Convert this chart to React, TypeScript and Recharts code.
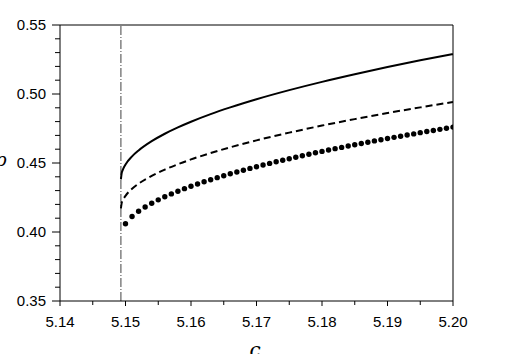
import React from "react";
import {
  ComposedChart,
  Line,
  Scatter,
  XAxis,
  YAxis,
  ReferenceLine,
} from "recharts";

// critical point (dash-dot marker)
const cCritical = 5.1493;

// solid + dashed curves
const lineC = [
  5.1493, 5.1494, 5.1496, 5.15, 5.151, 5.152, 5.154, 5.156, 5.158, 5.16,
  5.163, 5.166, 5.17, 5.175, 5.18, 5.185, 5.19, 5.195, 5.2,
];
const solidVals = [
  0.4382, 0.4422, 0.4452, 0.4489, 0.4548, 0.4591, 0.4658, 0.4712, 0.4758,
  0.4799, 0.4854, 0.4903, 0.4962, 0.5028, 0.5088, 0.5143, 0.5195, 0.5244,
  0.5289,
];
const dashedVals = [
  0.4172, 0.4206, 0.4231, 0.4262, 0.4313, 0.435, 0.4406, 0.4452, 0.4491,
  0.4526, 0.4572, 0.4614, 0.4664, 0.472, 0.4771, 0.4818, 0.4862, 0.4903,
  0.4942,
];

// dotted series, one marker every 0.001 from 5.150 to 5.200
const dotC = [
  5.15, 5.151, 5.152, 5.153, 5.154, 5.155, 5.156, 5.157, 5.158, 5.159, 5.16,
  5.161, 5.162, 5.163, 5.164, 5.165, 5.166, 5.167, 5.168, 5.169, 5.17, 5.171,
  5.172, 5.173, 5.174, 5.175, 5.176, 5.177, 5.178, 5.179, 5.18, 5.181, 5.182,
  5.183, 5.184, 5.185, 5.186, 5.187, 5.188, 5.189, 5.19, 5.191, 5.192, 5.193,
  5.194, 5.195, 5.196, 5.197, 5.198, 5.199, 5.2,
];
const dotVals = [
  0.406, 0.4112, 0.415, 0.4181, 0.4208, 0.4233, 0.4255, 0.4276, 0.4295,
  0.4314, 0.4331, 0.4348, 0.4364, 0.4379, 0.4394, 0.4408, 0.4422, 0.4435,
  0.4448, 0.4461, 0.4473, 0.4486, 0.4497, 0.4509, 0.452, 0.4531, 0.4542,
  0.4553, 0.4563, 0.4574, 0.4584, 0.4594, 0.4604, 0.4613, 0.4623, 0.4632,
  0.4641, 0.465, 0.466, 0.4668, 0.4677, 0.4686, 0.4694, 0.4703, 0.4711, 0.472,
  0.4728, 0.4736, 0.4744, 0.4752, 0.476,
];

const xMajor = [5.14, 5.15, 5.16, 5.17, 5.18, 5.19, 5.2];
const xMinor = [5.145, 5.155, 5.165, 5.175, 5.185, 5.195];
const yMajor = [0.35, 0.4, 0.45, 0.5, 0.55];
const yMinor = [
  0.36, 0.37, 0.38, 0.39, 0.41, 0.42, 0.43, 0.44, 0.46, 0.47, 0.48, 0.49,
  0.51, 0.52, 0.53, 0.54,
];

const solidData = lineC.map((c, i) => ({ x: c, y: solidVals[i] }));
const dashedData = lineC.map((c, i) => ({ x: c, y: dashedVals[i] }));
const dotData = dotC.map((c, i) => ({ x: c, y: dotVals[i] }));

const FONT = "'Liberation Sans', Arial, sans-serif";
const isMajor = (list: number[], v: number) =>
  list.some((m) => Math.abs(m - v) < 1e-6);

const XTick = ({ x, y, payload }: any) => {
  const major = isMajor(xMajor, payload.value);
  return (
    <g>
      <line x1={x} x2={x} y1={y} y2={y + (major ? 5 : 4)} stroke="#000" strokeWidth={1} />
      {major && (
        <text x={x} y={y + 26} textAnchor="middle" fontSize={15} fontFamily={FONT} fill="#000">
          {payload.value.toFixed(2)}
        </text>
      )}
    </g>
  );
};

const YTick = ({ x, y, payload }: any) => {
  const major = isMajor(yMajor, payload.value);
  return (
    <g>
      <line x1={x - (major ? 8 : 5)} x2={x} y1={y} y2={y} stroke="#000" strokeWidth={1} />
      {major && (
        <text x={x - 14} y={y + 5.3} textAnchor="end" fontSize={15} fontFamily={FONT} fill="#000">
          {payload.value.toFixed(2)}
        </text>
      )}
    </g>
  );
};

const Dot = (p: any) => <circle cx={p.cx} cy={p.cy} r={2.7} fill="#000" />;

export default function App() {
  return (
    <div
      style={{
        position: "absolute",
        left: 0,
        top: 0,
        width: 510,
        height: 354,
        overflow: "hidden",
        background: "#fff",
      }}
    >
      <ComposedChart
        width={510}
        height={354}
        margin={{ top: 25, right: 57, bottom: 23, left: 0 }}
      >
        <XAxis
          type="number"
          dataKey="x"
          domain={[5.14, 5.2]}
          ticks={[...xMajor, ...xMinor].sort((a, b) => a - b)}
          interval={0}
          height={30}
          tickSize={0}
          tickMargin={0}
          tickLine={false}
          axisLine={{ stroke: "#000" }}
          tick={<XTick />}
          allowDataOverflow
        />
        <YAxis
          type="number"
          dataKey="y"
          domain={[0.35, 0.55]}
          ticks={[...yMajor, ...yMinor].sort((a, b) => a - b)}
          interval={0}
          width={60}
          tickSize={0}
          tickMargin={0}
          tickLine={false}
          axisLine={{ stroke: "#000" }}
          tick={<YTick />}
          allowDataOverflow
        />
        <ReferenceLine y={0.55} stroke="#000" strokeWidth={1} />
        <ReferenceLine x={5.2} stroke="#000" strokeWidth={1} />
        <ReferenceLine
          x={cCritical}
          stroke="#111"
          strokeWidth={0.8}
          strokeDasharray="9 2 1 2"
        />
        <Line
          data={solidData}
          dataKey="y"
          type="monotone"
          stroke="#000"
          strokeWidth={2}
          dot={false}
          isAnimationActive={false}
        />
        <Line
          data={dashedData}
          dataKey="y"
          type="monotone"
          stroke="#000"
          strokeWidth={2}
          strokeDasharray="7 4"
          dot={false}
          isAnimationActive={false}
        />
        <Scatter
          data={dotData}
          dataKey="y"
          fill="#000"
          shape={<Dot />}
          isAnimationActive={false}
        />
      </ComposedChart>
      <svg
        width={510}
        height={354}
        style={{ position: "absolute", left: 0, top: 0, pointerEvents: "none" }}
      >
        <text x={255} y={357} textAnchor="middle" fontSize={20} fontStyle="italic" fontFamily="'DejaVu Serif', serif" fill="#000">
          c
        </text>
        <text x={-4} y={166} fontSize={18} fontStyle="italic" fontFamily="'DejaVu Serif', serif" fill="#000">
          ρ
        </text>
      </svg>
    </div>
  );
}
